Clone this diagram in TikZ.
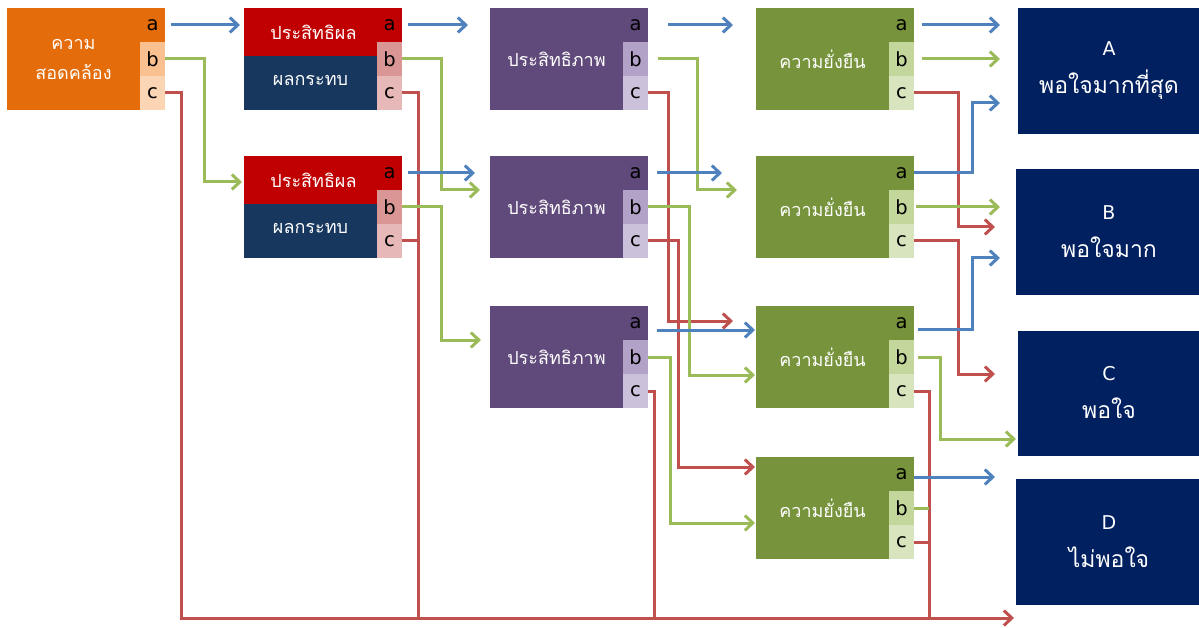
\documentclass[tikz,border=0pt]{standalone}
\usepackage{fontspec}
\setmainfont{Loma}[Script=Thai]
\newfontfamily\latinfont{DejaVu Sans}
\usetikzlibrary{arrows.meta,calc}
\definecolor{cOr}{HTML}{E46C0A}
\definecolor{cOrB}{HTML}{FAC090}
\definecolor{cOrC}{HTML}{FCD5B5}
\definecolor{cRed}{HTML}{C00000}
\definecolor{cNavy}{HTML}{17375E}
\definecolor{cRedB}{HTML}{D99694}
\definecolor{cRedC}{HTML}{E6B9B8}
\definecolor{cPur}{HTML}{604A7B}
\definecolor{cPurB}{HTML}{B3A2C7}
\definecolor{cPurC}{HTML}{CCC1DA}
\definecolor{cGrn}{HTML}{77933C}
\definecolor{cGrnB}{HTML}{C3D69B}
\definecolor{cGrnC}{HTML}{D7E4BD}
\definecolor{cRes}{HTML}{002060}
\definecolor{lBlue}{HTML}{4F81BD}
\definecolor{lGreen}{HTML}{9BBB59}
\definecolor{lRed}{HTML}{C0504D}
\tikzset{
  box/.style={draw=none, inner sep=0pt, outer sep=0pt, anchor=north west, minimum width=158pt, minimum height=102pt},
  resbox/.style={draw=none, inner sep=0pt, outer sep=0pt, anchor=north west, fill=cRes, minimum width=183pt, minimum height=126pt},
  cell/.style={draw=none, inner sep=0pt, outer sep=0pt, minimum width=25pt, minimum height=34pt, text=black, font=\latinfont\fontsize{19.5}{19.5}\selectfont},
  lbl/.style={text=white, align=center, font=\fontsize{18}{30}\selectfont},
  reslbl/.style={text=white, align=center, font=\fontsize{23}{38}\selectfont},
  ln/.style={line width=3pt},
  arr/.style={-{Straight Barb[length=8pt,width=15pt]}},
  bl/.style={ln, draw=lBlue},
  gl/.style={ln, draw=lGreen},
  rl/.style={ln, draw=lRed},
}
\newcommand\stdbox[6]{%
  \node[box, fill=#4] (#1) at (#2,#3) {};
  \node[cell, anchor=north east, fill=#4] (#1a) at (#1.north east) {a};
  \node[cell, anchor=north, fill=#5] (#1b) at (#1a.south) {b};
  \node[cell, anchor=north, fill=#6] (#1c) at (#1b.south) {c};
}
\newcommand\rbbox[3]{%
  \node[box, fill=cNavy] (#1) at (#2,#3) {};
  \node[cell, anchor=north east, fill=cRed] (#1a) at (#1.north east) {a};
  \node[cell, anchor=north, fill=cRedB] (#1b) at (#1a.south) {b};
  \node[cell, anchor=north, fill=cRedC] (#1c) at (#1b.south) {c};
  \node[draw=none, inner sep=0pt, outer sep=0pt, anchor=north west, fill=cRed, minimum width=133pt, minimum height=48pt] (#1top) at (#1.north west) {};
  \node[lbl] (#1t1) at ($(#1top.center)+(3,0)$) {ประสิทธิผล};
  \node[lbl] (#1t2) at ($(#1top.center)+(0,48)$) {ผลกระทบ};
}
\begin{document}
\begin{tikzpicture}[x=1pt,y=-1pt]
\useasboundingbox (0,0) rectangle (1199,628);
\fill[white] (0,0) rectangle (1199,628);
% boxes
\stdbox{O}{7}{8}{cOr}{cOrB}{cOrC}
\node[lbl] (Ot) at ($(O.center)+(-12.5,0)$) {ความ\\สอดคล้อง};
\rbbox{Ra}{244}{8}
\rbbox{Rb}{244}{156}
\stdbox{Pa}{490}{8}{cPur}{cPurB}{cPurC}
\stdbox{Pb}{490}{156}{cPur}{cPurB}{cPurC}
\stdbox{Pc}{490}{306}{cPur}{cPurB}{cPurC}
\node[lbl] (Pat) at ($(Pa.center)+(-12.5,0)$) {ประสิทธิภาพ};
\node[lbl] (Pbt) at ($(Pb.center)+(-12.5,0)$) {ประสิทธิภาพ};
\node[lbl] (Pct) at ($(Pc.center)+(-12.5,0)$) {ประสิทธิภาพ};
\stdbox{Ga}{756}{8}{cGrn}{cGrnB}{cGrnC}
\stdbox{Gb}{756}{156}{cGrn}{cGrnB}{cGrnC}
\stdbox{Gc}{756}{306}{cGrn}{cGrnB}{cGrnC}
\stdbox{Gd}{756}{457}{cGrn}{cGrnB}{cGrnC}
\node[lbl] (Gat) at ($(Ga.center)+(-12.5,0)$) {ความยั่งยืน};
\node[lbl] (Gbt) at ($(Gb.center)+(-12.5,0)$) {ความยั่งยืน};
\node[lbl] (Gct) at ($(Gc.center)+(-12.5,0)$) {ความยั่งยืน};
\node[lbl] (Gdt) at ($(Gd.center)+(-12.5,0)$) {ความยั่งยืน};
\node[resbox] (A) at (1018,8) {};
\node[resbox] (B) at (1016,169) {};
\node[resbox, minimum height=125pt] (C) at (1018,331) {};
\node[resbox] (D) at (1016,479) {};
\node[reslbl] (At) at (1109,71) {{\latinfont\fontsize{19}{38}\selectfont A}\\พอใจมากที่สุด};
\node[reslbl] (Bt) at (1109,232) {{\latinfont\fontsize{19}{38}\selectfont B}\\พอใจมาก};
\node[reslbl] (Ct) at (1109,393) {{\latinfont\fontsize{19}{38}\selectfont C}\\พอใจ};
\node[reslbl] (Dt) at (1109,542) {{\latinfont\fontsize{19}{38}\selectfont D}\\ไม่พอใจ};
% connectors from O
\draw[bl,arr] ($(Oa.east)+(6,0)$) -- ($(Ra.west|-Oa.east)+(-4,0)$);
\draw[gl,arr] (Ob.east) -| (204,182) -- ($(Rb.west|-0,182)+(-2,0)$);
\draw[rl,arr] (Oc.east) -| (181,618) -- ($(D.west|-0,618)+(-2,0)$);
% from Ra, Rb
\draw[bl,arr] ($(Raa.east)+(6,0)$) -- ($(Pa.west|-Raa.east)+(-22,0)$);
\draw[gl,arr] (Rab.east) -| (441,190) -- ($(Pb.west|-0,190)+(-10,0)$);
\draw[rl] (Rac.east) -| (418,618);
\draw[bl,arr] ($(Rba.east)+(6,0)$) -- ($(Pb.west|-Rba.east)+(-15,0)$);
\draw[gl,arr] (Rbb.east) -| (441,340) -- ($(Pc.west|-0,340)+(-9,0)$);
\draw[rl] (Rbc.east) -- ($(Rbc.east)+(16,0)$);
% from P boxes
\draw[bl,arr] ($(Paa.east)+(20,0)$) -- ($(Ga.west|-Paa.east)+(-23,0)$);
\draw[gl,arr] ($(Pab.east)+(10,0)$) -| (697,190) -- ($(Gb.west|-0,190)+(-19,0)$);
\draw[rl,arr] (Pac.east) -| (668,321) -- ($(Gc.west|-0,321)+(-23,0)$);
\draw[bl,arr] ($(Pba.east)+(9,0)$) -- ($(Gb.west|-Pba.east)+(-34,0)$);
\draw[gl,arr] (Pbb.east) -| (689,375) -- ($(Gc.west|-0,375)+(-1,0)$);
\draw[rl,arr] (Pbc.east) -| (678,467) -- ($(Gd.west|-0,467)+(-1,0)$);
\draw[bl,arr] ($(Pca.east)+(9,7)$) -- ($(Gc.west|-0,330)+(-1,0)$);
\draw[gl,arr] (Pcb.east) -| (670,523) -- ($(Gd.west|-0,523)+(-1,0)$);
\draw[rl] (Pcc.east) -| (654,618);
% from G boxes
\draw[bl,arr] ($(Gaa.east)+(8,0)$) -- ($(A.west|-Gaa.east)+(-18,0)$);
\draw[gl,arr] ($(Gab.east)+(8,0)$) -- ($(A.west|-Gab.east)+(-18,0)$);
\draw[rl,arr] (Gac.east) -| (958,227) -- ($(B.west|-0,227)+(-21,0)$);
\draw[bl,arr] (Gba.east) -| (972,103) -- ($(A.west|-0,103)+(-18,0)$);
\draw[gl,arr] ($(Gbb.east)+(2,0)$) -- ($(B.west|-Gbb.east)+(-16,0)$);
\draw[rl,arr] (Gbc.east) -| (958,374) -- ($(C.west|-0,374)+(-23,0)$);
\draw[bl,arr] ($(Gca.east)+(4,6)$) -| (972,258) -- ($(B.west|-0,258)+(-16,0)$);
\draw[gl,arr] ($(Gcb.east)+(4,0)$) -| (940,439) -- ($(C.west|-0,439)+(-2,0)$);
\draw[rl] (Gcc.east) -| (929,618);
\draw[bl,arr] (Gda.east|-0,477) -- ($(D.west|-0,477)+(-21,0)$);
\draw[gl] (Gdb.east) -- ($(Gdb.east)+(15,0)$);
\draw[rl] (Gdc.east) -- ($(Gdc.east)+(15,0)$);
\end{tikzpicture}
\end{document}
